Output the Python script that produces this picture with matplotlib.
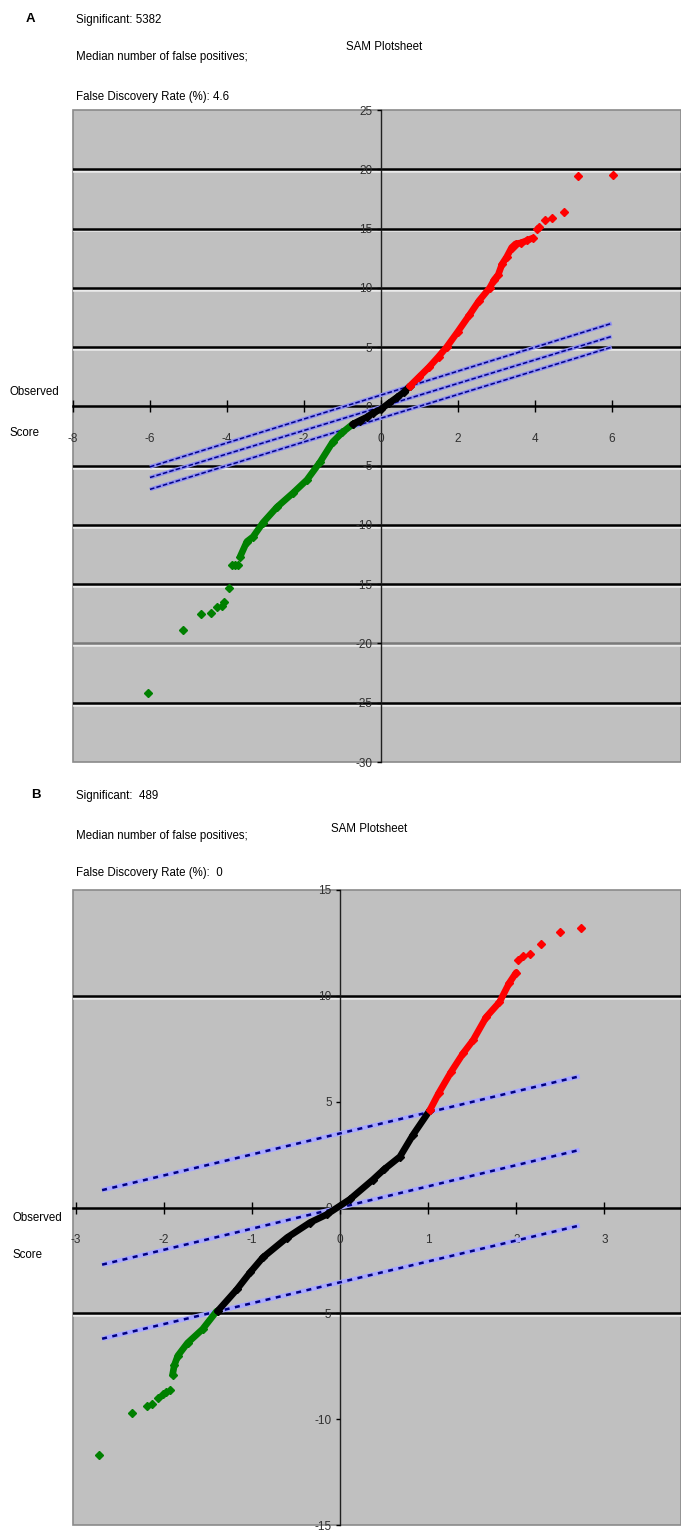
import matplotlib
matplotlib.use("Agg")
import matplotlib.pyplot as plt
import matplotlib.patheffects as pe
from matplotlib.patches import Rectangle

# ---- panel A data (expected score, observed score) ----
a_red_x = [0.75, 1.0, 1.25, 1.5, 1.71, 2.0, 2.3, 2.55, 2.83, 2.95, 3.05, 3.15, 3.27, 3.4, 3.5, 3.65, 3.8, 3.95]
a_red_y = [1.7, 2.5, 3.3, 4.2, 5.0, 6.3, 7.7, 8.9, 10.0, 10.7, 11.1, 12.0, 12.6, 13.4, 13.7, 13.8, 14.0, 14.2]
a_red_out_x = [4.05, 4.12, 4.26, 4.44, 4.75, 5.12, 6.03]
a_red_out_y = [15.0, 15.1, 15.7, 15.9, 16.4, 19.4, 19.5]
a_black_x = [-0.73, -0.55, -0.36, -0.2, 0.0, 0.2, 0.42, 0.6, 0.75]
a_black_y = [-1.5, -1.2, -0.9, -0.55, -0.25, 0.25, 0.76, 1.2, 1.7]
a_green_x = [-0.73, -1.0, -1.25, -1.58, -1.92, -2.28, -2.7, -3.06, -3.32, -3.48, -3.66]
a_green_y = [-1.5, -2.2, -3.0, -4.7, -6.2, -7.3, -8.5, -9.8, -11.0, -11.4, -12.7]
a_green_out_x = [-3.71, -3.79, -3.87, -3.95, -4.08, -4.13, -4.26, -4.42, -4.68, -5.14, -6.05]
a_green_out_y = [-13.4, -13.4, -13.4, -15.3, -16.5, -16.8, -16.9, -17.4, -17.5, -18.9, -24.2]
a_delta_x = [-6, 6]
a_upper = [-5.1, 7.0]
a_middle = [-6.0, 5.9]
a_lower = [-7.0, 5.0]
a_yticks = [25, 20, 15, 10, 5, 0, -5, -10, -15, -20, -25, -30]
a_xticks = [-8, -6, -4, -2, 0, 2, 4, 6]
a_grid = [20, 15, 10, 5, -5, -10, -15, -20, -25]

# ---- panel B data ----
b_red_x = [1.02, 1.12, 1.26, 1.40, 1.51, 1.66, 1.81, 1.92, 2.0]
b_red_y = [4.6, 5.4, 6.4, 7.3, 7.9, 9.0, 9.7, 10.6, 11.1]
b_red_out_x = [2.02, 2.08, 2.16, 2.28, 2.5, 2.73]
b_red_out_y = [11.7, 11.9, 12.0, 12.45, 13.0, 13.2]
b_black_x = [-1.39, -1.17, -1.02, -0.875, -0.6, -0.34, -0.15, 0.11, 0.375, 0.5, 0.68, 0.83, 1.02]
b_black_y = [-4.9, -3.87, -3.07, -2.36, -1.42, -0.71, -0.33, 0.38, 1.32, 1.8, 2.4, 3.44, 4.6]
b_green_x = [-1.40, -1.56, -1.73, -1.84, -1.88, -1.9]
b_green_y = [-4.9, -5.75, -6.4, -7.0, -7.45, -7.9]
b_green_out_x = [-1.93, -1.97, -2.01, -2.07, -2.13, -2.19, -2.36, -2.73]
b_green_out_y = [-8.6, -8.7, -8.8, -9.0, -9.3, -9.4, -9.7, -11.7]
b_delta_x = [-2.7, 2.72]
b_upper = [0.82, 6.2]
b_middle = [-2.7, 2.72]
b_lower = [-6.2, -0.85]
b_yticks = [15, 10, 5, 0, -5, -10, -15]
b_xticks = [-3, -2, -1, 0, 1, 2, 3]
b_grid = [10, -5]

TXT = ['Liberation Sans', 'DejaVu Sans']
GRID_FX = [pe.SimpleLineShadow(offset=(0, -1.4), shadow_color='#f0f0f0', alpha=0.9),
           pe.Normal()]


def setup(ax, xlim, ylim, xticks, yticks, grid, grey_lines=()):
    ax.set_facecolor('#c0c0c0')
    ax.set_axisbelow(False)
    ax.set_xlim(*xlim)
    ax.set_ylim(*ylim)
    ax.spines['left'].set_position(('data', 0))
    ax.spines['bottom'].set_position(('data', 0))
    ax.spines['top'].set_visible(False)
    ax.spines['right'].set_visible(False)
    ax.spines['left'].set_color('#202020')
    ax.spines['left'].set_linewidth(1.0)
    ax.spines['bottom'].set_color('black')
    ax.spines['bottom'].set_linewidth(1.8)
    ax.add_patch(Rectangle((0, 0), 1, 1, transform=ax.transAxes, fill=False,
                           ec='#8a8a8a', lw=1.2, clip_on=False, zorder=1))
    ax.set_xticks(xticks)
    ax.set_xticklabels([str(v) for v in xticks])
    ax.set_yticks(yticks)
    ax.set_yticklabels([str(v) for v in yticks])
    ax.tick_params(axis='x', direction='inout', length=8, width=1, pad=15,
                   labelsize=8.5, labelcolor='#303030')
    ax.tick_params(axis='y', direction='out', length=3, width=1, pad=3,
                   labelsize=8.5, labelcolor='#303030')
    for lab in ax.get_xticklabels() + ax.get_yticklabels():
        lab.set_family(TXT)
    for g in grid:
        col = '#7a7a7a' if g in grey_lines else 'black'
        ax.axhline(g, color=col, lw=1.8, zorder=2, path_effects=GRID_FX)


def deltas(ax, x, lines, dotted):
    for yy in lines:
        if dotted:
            ax.plot(x, yy, color='#a8a8ff', lw=3.4, zorder=3, solid_capstyle='butt')
            ax.plot(x, yy, color='#000080', lw=1.8, dashes=(2, 2.2), zorder=3.1)
        else:
            ax.plot(x, yy, color='#9090f0', lw=2.8, zorder=3, solid_capstyle='butt')
            ax.plot(x, yy, color='#000088', lw=1.1, dashes=(3, 1.4), zorder=3.1)


def points(ax, x, y, color, dense):
    if dense:
        ax.plot(x, y, color=color, lw=4.8, solid_capstyle='round', zorder=4)
    ax.plot(x, y, linestyle='none', marker='D', markersize=3.8, color=color, zorder=4)


fig = plt.figure(figsize=(6.81, 15.32), dpi=100)

# ---------------- panel A ----------------
axA = fig.add_axes([73 / 681, 1 - 762 / 1532, 608 / 681, 652 / 1532])
setup(axA, (-8, 7.8), (-30, 25), a_xticks, a_yticks, a_grid, grey_lines=(-20,))
deltas(axA, a_delta_x, [a_upper, a_middle, a_lower], False)
points(axA, a_green_x, a_green_y, '#008000', True)
points(axA, a_green_out_x, a_green_out_y, '#008000', False)
points(axA, a_black_x, a_black_y, 'black', True)
points(axA, a_red_x, a_red_y, '#ff0000', True)
points(axA, a_red_out_x, a_red_out_y, '#ff0000', False)

# ---------------- panel B ----------------
axB = fig.add_axes([73 / 681, 1 - 1525 / 1532, 608 / 681, 635 / 1532])
setup(axB, (-3.03, 3.87), (-15, 15), b_xticks, b_yticks, b_grid)
deltas(axB, b_delta_x, [b_upper, b_middle, b_lower], True)
points(axB, b_green_x, b_green_y, '#008000', True)
points(axB, b_green_out_x, b_green_out_y, '#008000', False)
points(axB, b_black_x, b_black_y, 'black', True)
points(axB, b_red_x, b_red_y, '#ff0000', True)
points(axB, b_red_out_x, b_red_out_y, '#ff0000', False)


def ftext(x, y, s, **kw):
    fig.text(x / 681, 1 - y / 1532, s, va='center', family=TXT, **kw)


FS = 8.3
# header texts panel A
ftext(26, 19, 'A', size=9.5, weight='bold')
ftext(76, 20, 'Significant: 5382', size=FS)
ftext(76, 57, 'Median number of false positives;', size=FS)
ftext(76, 97, 'False Discovery Rate (%): 4.6', size=FS)
ftext(346, 47, 'SAM Plotsheet', size=FS)
ftext(10, 392, 'Observed', size=FS)
ftext(10, 433, 'Score', size=FS)

# header texts panel B
ftext(31, 795, 'B', size=9.5, weight='bold')
ftext(76, 796, 'Significant:  489', size=FS)
ftext(76, 836, 'Median number of false positives;', size=FS)
ftext(76, 873, 'False Discovery Rate (%):  0', size=FS)
ftext(331, 829, 'SAM Plotsheet', size=FS)
ftext(12, 1218, 'Observed', size=FS)
ftext(12, 1255, 'Score', size=FS)

fig.savefig('out.png', dpi=100)
